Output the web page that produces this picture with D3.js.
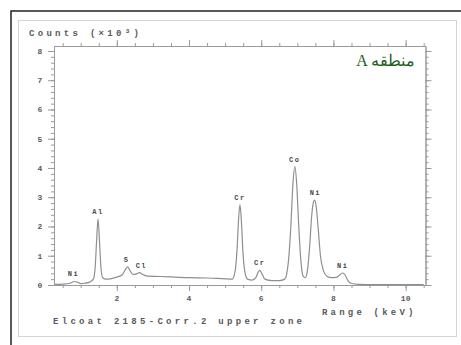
<!DOCTYPE html>
<html>
<head>
<meta charset="utf-8">
<script src="https://cdn.jsdelivr.net/npm/d3@7"></script>
<style>
  body { margin: 0; background: #fff; }
  svg { display: block; }
  .mono { font-family: "Liberation Mono", "DejaVu Sans Mono", monospace; }
</style>
</head>
<body>
<svg width="461" height="345"></svg>
<script>
// spectrum: energy (keV) and counts (x10^3)
const energy = [0.28, 0.5, 0.7, 0.82, 0.9, 1.0, 1.1, 1.25, 1.35, 1.40, 1.44, 1.48, 1.52, 1.56, 1.61, 1.70,
  1.85, 2.0, 2.15, 2.25, 2.30, 2.36, 2.45, 2.55, 2.63, 2.72, 2.85, 3.2, 3.6, 4.0, 4.5, 5.0, 5.2,
  5.28, 5.33, 5.37, 5.41, 5.45, 5.49, 5.54, 5.62, 5.75, 5.85, 5.92, 5.96, 6.02, 6.1, 6.3, 6.5, 6.65,
  6.7, 6.76, 6.82, 6.88, 6.93, 6.98, 7.04, 7.1, 7.16, 7.22, 7.28, 7.34, 7.4, 7.45, 7.48, 7.52, 7.58,
  7.64, 7.72, 7.82, 7.95, 8.1, 8.18, 8.26, 8.32, 8.4, 8.5, 8.7, 9.2, 10.5];
const counts = [0.02, 0.03, 0.06, 0.12, 0.1, 0.05, 0.06, 0.1, 0.2, 0.6, 1.5, 2.26, 1.5, 0.6, 0.25, 0.2,
  0.22, 0.27, 0.35, 0.55, 0.62, 0.5, 0.36, 0.38, 0.42, 0.36, 0.3, 0.29, 0.27, 0.25, 0.24, 0.21, 0.2,
  0.5, 1.2, 2.2, 2.75, 2.2, 1.2, 0.5, 0.2, 0.17, 0.25, 0.45, 0.5, 0.38, 0.2, 0.15, 0.15, 0.2,
  0.35, 0.9, 2.0, 3.5, 4.05, 3.5, 2.0, 0.8, 0.3, 0.25, 0.5, 1.3, 2.4, 2.85, 2.9, 2.7, 1.9,
  1.0, 0.5, 0.3, 0.25, 0.27, 0.35, 0.41, 0.35, 0.15, 0.05, 0.02, 0.01, 0.01];

// peak labels
const peakNames = ["Ni", "Al", "S", "Cl", "Cr", "Cr", "Co", "Ni", "Ni"];
const peakEnergy = [0.80, 1.48, 2.27, 2.68, 5.41, 5.96, 6.93, 7.50, 8.26];
const peakTop = [0.12, 2.26, 0.62, 0.42, 2.75, 0.5, 4.05, 2.9, 0.41];

const yTicks = [0, 1, 2, 3, 4, 5, 6, 7, 8];
const xTicks = [2, 4, 6, 8, 10];

const svg = d3.select("svg");

// frames
svg.append("rect")
  .attr("x", 18.5).attr("y", 20.5).attr("width", 438).attr("height", 316)
  .attr("fill", "none").attr("stroke", "#d4d4d4");
svg.append("path")
  .attr("d", "M11,345V11H461")
  .attr("fill", "none").attr("stroke", "#222").attr("stroke-width", 1.5);

// scales
const x = d3.scaleLinear().domain([0.26, 10.55]).range([54, 425.5]);
const y = d3.scaleLinear().domain([0, 8.17]).range([285, 46]);

const axisColor = "#9a9a9a";
const textColor = "#5a5a5a";

function styleAxis(g) {
  g.select(".domain").attr("stroke", axisColor);
  g.selectAll(".tick line").attr("stroke", axisColor);
  g.selectAll("text").remove();
}

// minor ticks
const yMinor = d3.range(0, 8.01, 0.2);
const xMinor = d3.range(0.5, 10.51, 0.5);

svg.append("g").attr("transform", "translate(54,0)")
  .call(d3.axisLeft(y).tickValues(yMinor).tickSize(3).tickSizeOuter(0)).call(styleAxis);
svg.append("g").attr("transform", "translate(54,0)")
  .call(d3.axisLeft(y).tickValues(yTicks).tickSize(6).tickSizeOuter(0)).call(styleAxis);
svg.append("g").attr("transform", "translate(425.5,0)")
  .call(d3.axisRight(y).tickValues(yMinor).tickSize(3).tickSizeOuter(0)).call(styleAxis);
svg.append("g").attr("transform", "translate(425.5,0)")
  .call(d3.axisRight(y).tickValues(yTicks).tickSize(6).tickSizeOuter(0)).call(styleAxis);
svg.append("g").attr("transform", "translate(0,285)")
  .call(d3.axisBottom(x).tickValues(xMinor).tickSize(3).tickSizeOuter(0)).call(styleAxis);
svg.append("g").attr("transform", "translate(0,285)")
  .call(d3.axisBottom(x).tickValues(xTicks).tickSize(6).tickSizeOuter(0)).call(styleAxis);
svg.append("g").attr("transform", "translate(0,46)")
  .call(d3.axisTop(x).tickValues(xMinor).tickSize(3).tickSizeOuter(0)).call(styleAxis);
svg.append("g").attr("transform", "translate(0,46)")
  .call(d3.axisTop(x).tickValues(xTicks).tickSize(6).tickSizeOuter(0)).call(styleAxis);

// tick labels
svg.append("g").selectAll("text")
  .data(yTicks).enter().append("text")
  .attr("class", "mono")
  .attr("x", 40).attr("y", d => y(d) + 3)
  .attr("text-anchor", "middle")
  .attr("font-size", 8).attr("font-weight", "bold").attr("fill", textColor)
  .text(d => d);
svg.append("g").selectAll("text")
  .data(xTicks).enter().append("text")
  .attr("class", "mono")
  .attr("x", d => x(d)).attr("y", 301)
  .attr("text-anchor", "middle")
  .attr("font-size", 8).attr("font-weight", "bold").attr("fill", textColor)
  .text(d => d);

// spectrum
const line = d3.line()
  .x(d => x(d[0]))
  .y(d => y(d[1]))
  .curve(d3.curveMonotoneX);

svg.append("path")
  .datum(d3.zip(energy, counts))
  .attr("fill", "none")
  .attr("stroke", "#8f8f8f")
  .attr("stroke-width", 1.2)
  .attr("d", line);

// peak labels
svg.append("g").selectAll("text")
  .data(peakNames).enter().append("text")
  .attr("class", "mono")
  .attr("x", (d, i) => x(peakEnergy[i]))
  .attr("y", (d, i) => y(peakTop[i]) - 5)
  .attr("text-anchor", "middle")
  .attr("font-size", 7).attr("font-weight", "bold")
  .attr("letter-spacing", 1.5)
  .attr("fill", "#4a4a4a")
  .text(d => d);

// titles
svg.append("text").attr("class", "mono")
  .attr("x", 29).attr("y", 36)
  .attr("font-size", 9).attr("font-weight", "bold")
  .attr("letter-spacing", 3.3).attr("fill", textColor)
  .text("Counts (×10³)");

svg.append("text").attr("class", "mono")
  .attr("x", 322).attr("y", 315)
  .attr("font-size", 9).attr("font-weight", "bold")
  .attr("letter-spacing", 3.2).attr("fill", textColor)
  .text("Range (keV)");

svg.append("text").attr("class", "mono")
  .attr("x", 53).attr("y", 324)
  .attr("font-size", 9).attr("font-weight", "bold")
  .attr("letter-spacing", 3.3).attr("fill", textColor)
  .text("Elcoat 2185-Corr.2 upper zone");

svg.append("text")
  .attr("x", 415).attr("y", 66)
  .attr("text-anchor", "end")
  .attr("font-family", "'Liberation Serif', 'DejaVu Serif', serif")
  .attr("font-size", 16).attr("fill", "#1d5e1d")
  .text("A منطقه");
</script>
</body>
</html>
